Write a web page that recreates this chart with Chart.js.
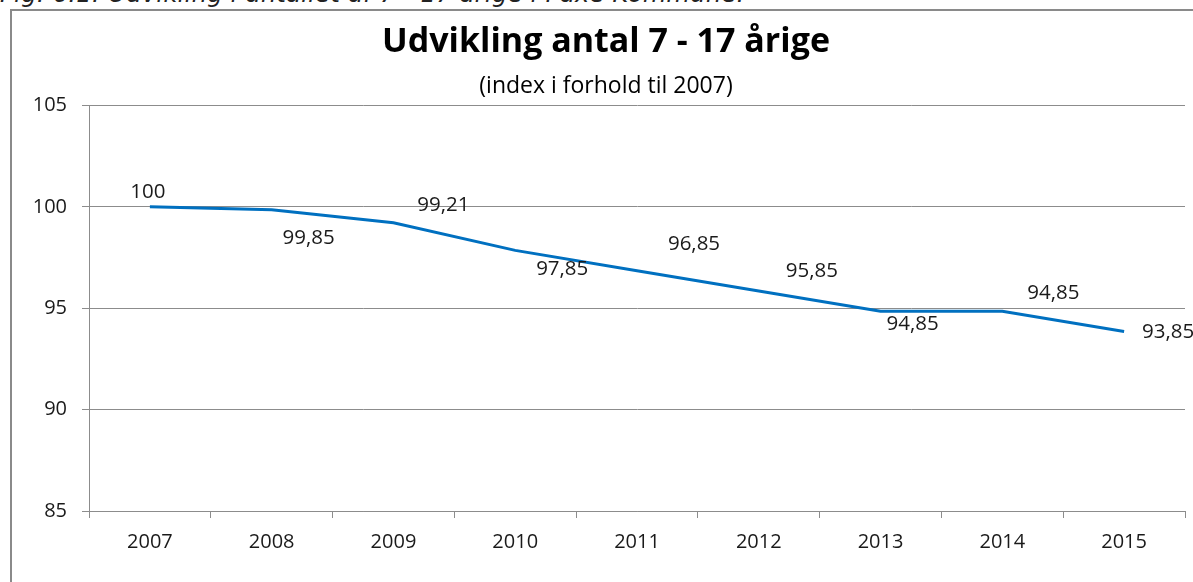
<!DOCTYPE html>
<html>
<head>
<meta charset="utf-8">
<script src="https://cdn.jsdelivr.net/npm/chart.js@4"></script>
<style>
  html, body { margin: 0; padding: 0; background: #fff; }
  #wrap { position: relative; width: 1193px; height: 582px; overflow: hidden; }
  #caption { position: absolute; left: 0px; top: -20px; font-family: "DejaVu Sans", sans-serif; font-style: italic; font-size: 24px; letter-spacing: 0.35px; color: #222; white-space: nowrap; }
  #frame { position: absolute; left: 10px; top: 9px; width: 1300px; height: 700px; border: 2px solid #8a8a8a; box-sizing: border-box; }
  #box { position: absolute; left: 0; top: 0; width: 1193px; height: 582px; }
</style>
</head>
<body>
<div id="wrap">
  <div id="caption">Fig. 6.1: Udvikling i antallet af 7 - 17 årige i Faxe Kommune.</div>
  <div id="frame"></div>
  <div id="box"><canvas id="c"></canvas></div>
</div>
<script>
const categories = ["2007", "2008", "2009", "2010", "2011", "2012", "2013", "2014", "2015"];
const indexValues = [100, 99.85, 99.21, 97.85, 96.85, 95.85, 94.85, 94.85, 93.85];
const yTicks = [85, 90, 95, 100, 105];
const chartTitle = "Udvikling antal 7 - 17 årige";
const chartSubtitle = "(index i forhold til 2007)";

// label offsets (style only): dx, dy from point centre
const labelDx = [-2, 37, 50, 47, 57, 53, 32, 51, 44];
const labelDy = [-15, 28, -18, 19, -27, -20, 13, -18, 1];

const FONT = "'Open Sans', sans-serif";

const labelPlugin = {
  id: 'valueLabels',
  afterDatasetsDraw(chart) {
    const ctx = chart.ctx;
    const meta = chart.getDatasetMeta(0);
    ctx.save();
    ctx.font = "20.5px " + FONT;
    ctx.fillStyle = "#1a1a1a";
    ctx.textAlign = "center";
    ctx.textBaseline = "middle";
    meta.data.forEach((pt, i) => {
      const txt = String(indexValues[i]).replace('.', ',');
      ctx.fillText(txt, pt.x + labelDx[i], pt.y + labelDy[i]);
    });
    ctx.restore();
  }
};

new Chart(document.getElementById('c'), {
  type: 'line',
  data: {
    labels: categories,
    datasets: [{
      data: indexValues,
      borderColor: '#0070c0',
      borderWidth: 3,
      pointRadius: 0,
      tension: 0,
      fill: false
    }]
  },
  options: {
    responsive: true,
    maintainAspectRatio: false,
    animation: false,
    layout: { padding: { top: 0, right: 8, bottom: 0, left: 27 } },
    plugins: {
      legend: { display: false },
      tooltip: { enabled: false },
      title: {
        display: true,
        text: chartTitle,
        color: '#000',
        font: { family: FONT, size: 34, weight: 'bold' },
        padding: { top: 22, bottom: 0 }
      },
      subtitle: {
        display: true,
        text: chartSubtitle,
        color: '#000',
        font: { family: FONT, size: 23 },
        padding: { top: 10, bottom: 5 }
      }
    },
    scales: {
      x: {
        offset: true,
        grid: { display: true, offset: true, drawOnChartArea: false, drawTicks: true, tickLength: 7, color: '#8c8c8c' },
        border: { display: true, color: '#8c8c8c' },
        ticks: { color: '#1a1a1a', font: { family: FONT, size: 20 }, padding: 12, maxRotation: 0 },
        afterFit(scale) { scale.height = 71; }
      },
      y: {
        min: 85, max: 105,
        afterBuildTicks(scale) { scale.ticks = yTicks.map(v => ({ value: v })); },
        grid: { color: '#8c8c8c', tickLength: 7, drawTicks: true },
        border: { display: true, color: '#8c8c8c' },
        ticks: { color: '#1a1a1a', font: { family: FONT, size: 20 }, padding: 15 },
        afterFit(scale) { scale.width = 62; }
      }
    }
  },
  plugins: [labelPlugin]
});
</script>
</body>
</html>
